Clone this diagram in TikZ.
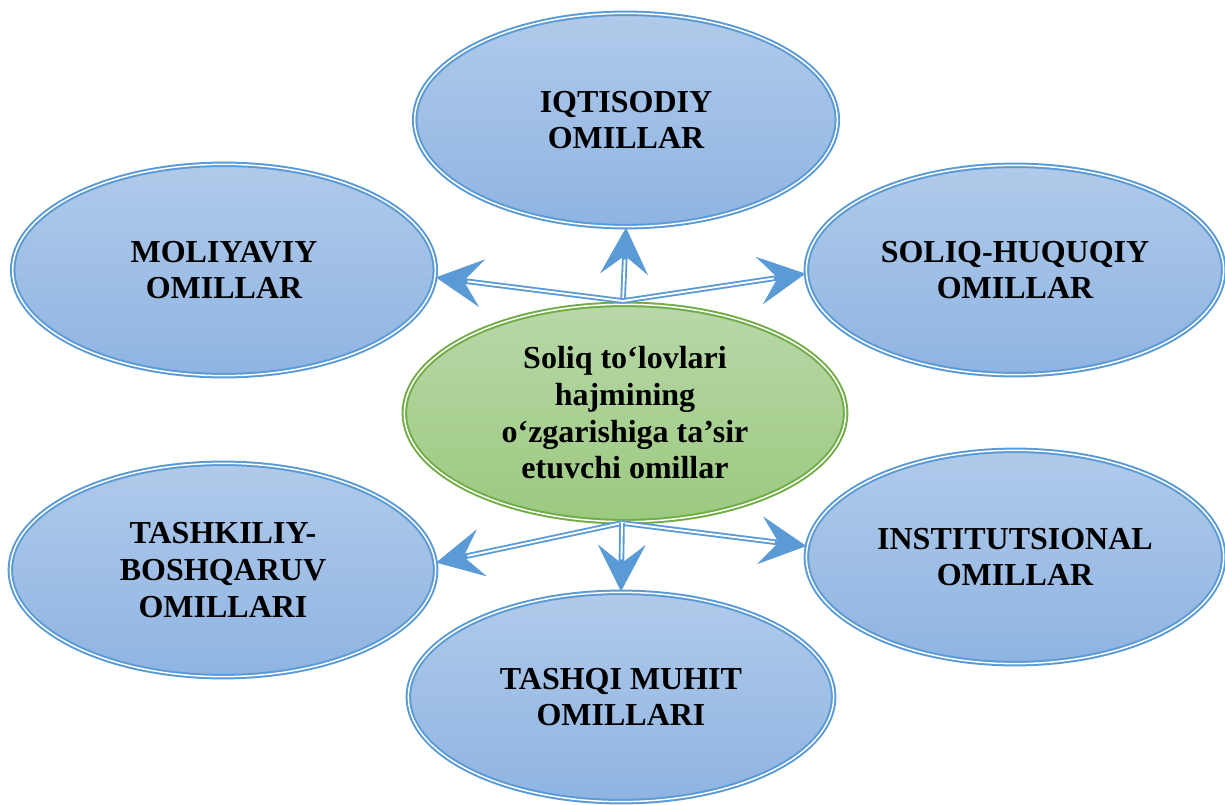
\documentclass[tikz,border=0pt]{standalone}
\usepackage{fontspec}
\setmainfont{Liberation Serif}
\usetikzlibrary{shapes.geometric,arrows.meta}

\definecolor{omilblue}{RGB}{91,155,213}
\definecolor{omiltop}{RGB}{176,202,234}
\definecolor{omilbot}{RGB}{143,180,226}
\definecolor{coregreen}{RGB}{112,173,71}
\definecolor{coretop}{RGB}{184,216,168}
\definecolor{corebot}{RGB}{156,201,128}

\begin{document}
\begin{tikzpicture}[x=0.75pt,y=0.75pt,yscale=-1,xscale=1,
  omil/.style={ellipse,inner sep=0pt,draw=omilblue,line width=1.5pt,double=white,double distance=1.1pt,
    top color=omiltop,bottom color=omilbot,align=center,font=\fontsize{24}{27.5}\selectfont\bfseries},
  core/.style={omil,draw=coregreen,top color=coretop,bottom color=corebot},
  link/.style={draw=omilblue,line width=4.2pt,
    -{Stealth[length=35pt,width=36pt,inset=14pt,line width=0.5pt]},
    postaction={draw=white,line width=1.4pt,-,shorten >=24pt}}]
\useasboundingbox (0,0) rectangle (1225,805);

% centre
\node[core,minimum width=331pt,minimum height=163pt] (c) at (625,413)
  {Soliq to‘lovlari\\hajmining\\o‘zgarishiga ta’sir\\etuvchi omillar};

% factors
\node[omil,minimum width=317pt,minimum height=160pt] (top) at (626,120) {IQTISODIY\\OMILLAR};
\node[omil,minimum width=317pt,minimum height=158.5pt] (lu) at (224,270) {MOLIYAVIY\\OMILLAR};
\node[omil,minimum width=313pt,minimum height=157pt] (ru) at (1015,270) {SOLIQ-HUQUQIY\\OMILLAR};
\node[omil,minimum width=319pt,minimum height=160pt] (ll) at (223,570) {TASHKILIY-\\BOSHQARUV\\OMILLARI};
\node[omil,minimum width=313pt,minimum height=160pt] (rl) at (1015,557) {INSTITUTSIONAL\\OMILLAR};
\node[omil,minimum width=319pt,minimum height=157pt] (b) at (621,697) {TASHQI MUHIT\\OMILLARI};

% arrows
\coordinate (ot) at (623,301);
\coordinate (ob) at (622,523);
\draw[link] (ot) -- (top.south);
\draw[link] (ot) -- (lu.-2);
\draw[link] (ot) -- (ru.181);
\draw[link] (ob) -- (ll.2);
\draw[link] (ob) -- (rl.177);
\draw[link] (ob) -- (b.north);

\end{tikzpicture}
\end{document}
